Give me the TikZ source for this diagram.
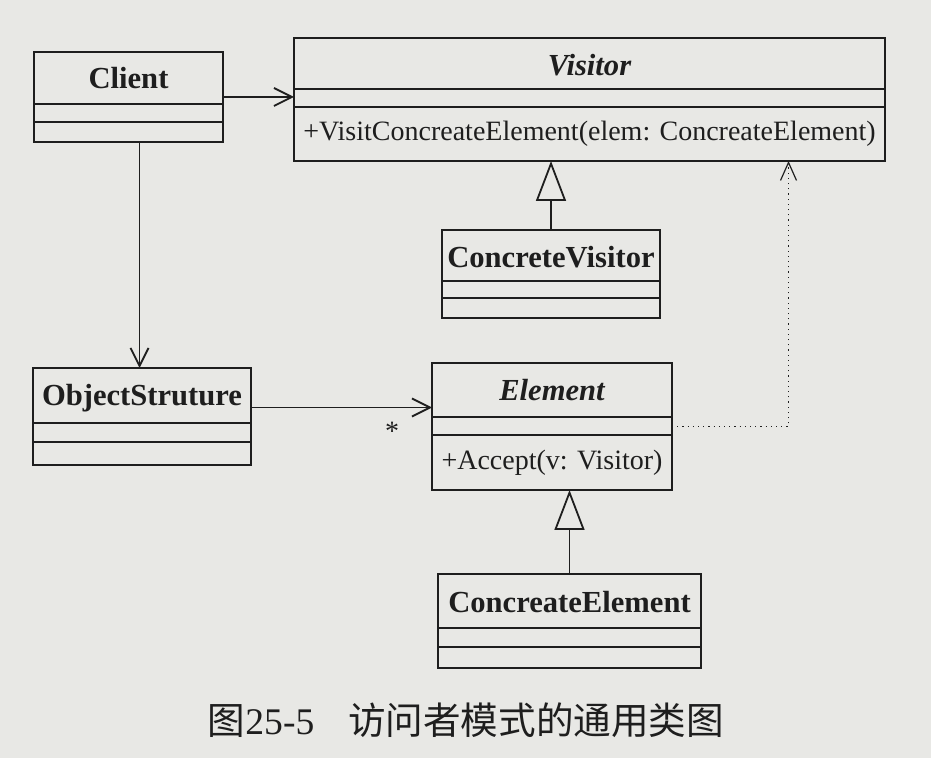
\documentclass[tikz,border=0pt]{standalone}
\usepackage{fontspec}
\setmainfont{Liberation Serif}
\newfontfamily\cjk{Noto Sans CJK SC}
\usetikzlibrary{arrows.meta,calc}
\definecolor{paper}{RGB}{232,232,229}
\definecolor{ink}{RGB}{30,30,30}

\begin{document}
\begin{tikzpicture}
  [x=0.5pt,y=-0.5pt,every node/.style={text=ink,font=\fontsize{14}{17}\selectfont},
   cls/.style={draw=ink,line width=1.1pt,rectangle,anchor=north west,inner sep=0pt,outer sep=0pt},
   title/.style={font=\fontsize{15.3}{18}\selectfont\bfseries},
   assoc/.style={draw=ink,line width=0.9pt,-{Straight Barb[length=9pt,width=9pt]}},
   inherit/.style={draw=ink,line width=0.9pt,-{Triangle[open,length=20pt,width=15pt]}},
   depend/.style={draw=ink,line width=0.6pt,dotted,-{Straight Barb[length=9pt,width=8pt,line width=0.6pt]}}]
  \fill[paper] (0,0) rectangle (931,758);
  \useasboundingbox (0,0) rectangle (931,758);

  % classes
  \node[cls,minimum width=94.5pt,minimum height=45pt] (client) at (34,52) {};
  \node[cls,minimum width=295.5pt,minimum height=61.5pt] (visitor) at (294,38) {};
  \node[cls,minimum width=109pt,minimum height=44pt] (cvisitor) at (442,230) {};
  \node[cls,minimum width=109pt,minimum height=48.5pt] (objstr) at (33,368) {};
  \node[cls,minimum width=120pt,minimum height=63.5pt] (element) at (432,363) {};
  \node[cls,minimum width=131.5pt,minimum height=47pt] (celem) at (438,574) {};

  \node[title] (clientname) at ($(client.north)+(0,26)$) {Client};
  \node[title] (visitorname) at ($(visitor.north)+(0,27)$) {\itshape Visitor};
  \node (visitorop) at ($(visitor.north)+(0,96)$) {+VisitConcreateElement(elem: ConcreateElement)};
  \node[title] (cvisitorname) at ($(cvisitor.north)+(0,27)$) {ConcreteVisitor};
  \node[title] (objstrname) at ($(objstr.north)+(0,30)$) {ObjectStruture};
  \node[title] (elementname) at ($(element.north)+(0,27)$) {\itshape Element};
  \node (elementop) at ($(element.north)+(0,100)$) {+Accept(v: Visitor)};
  \node[title] (celemname) at ($(celem.north)+(0,28)$) {ConcreateElement};

  \foreach \n/\a/\b in {client/52/70,visitor/51/69,cvisitor/51/68,objstr/55/74,element/54/72,celem/54/73}
    \draw[ink,line width=1.1pt] ($(\n.north west)+(0,\a)$) -- ($(\n.north east)+(0,\a)$)
                                ($(\n.north west)+(0,\b)$) -- ($(\n.north east)+(0,\b)$);

  % connectors
  \coordinate (cdown) at ($(client.south)+(11,0)$);
  \coordinate (oright) at ($(objstr.east)+(0,-9)$);
  \coordinate (vhook) at ($(visitor.south)+(199,0)$);
  \draw[assoc] (client.east) -- (client.east -| visitor.west);
  \draw[assoc] (cdown) -- (cdown |- objstr.north);
  \draw[assoc] (oright) -- (oright -| element.west)
    node[pos=0.78,below=7pt,inner sep=0pt] (mult) {*};
  \draw[depend] (element.east) -| (vhook);
  \draw[inherit] (cvisitor.north) -- (cvisitor.north |- visitor.south);
  \draw[inherit] (celem.north) -- (celem.north |- element.south);

  \node (caption) at (466,720)
    {\fontsize{18.8}{22}\selectfont\cjk 图{\rmfamily 25-5}\hspace{0.9em}访问者模式的通用类图};
\end{tikzpicture}
\end{document}
